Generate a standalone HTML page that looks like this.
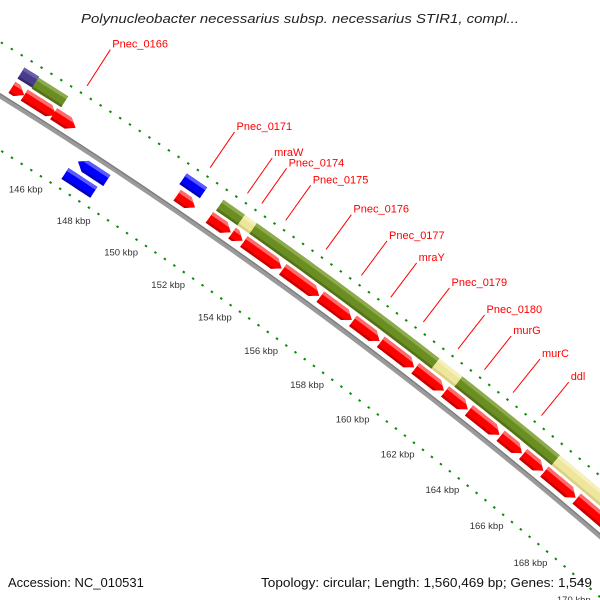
<!DOCTYPE html>
<html><head><meta charset="utf-8"><style>
html,body{margin:0;padding:0;background:#fff;}
svg{display:block;font-family:"Liberation Sans",sans-serif;}
</style></head><body>
<svg id="map" width="600" height="600" viewBox="0 0 600 600" xmlns="http://www.w3.org/2000/svg">
<rect x="0" y="0" width="600" height="600" fill="#fff"/>
<g id="ticks"></g>
<g id="backbone"></g>
<g id="features"></g>
<g id="labels"></g>
<text x="300" y="23" text-anchor="middle" font-size="13" font-style="italic" fill="#222" textLength="438" lengthAdjust="spacingAndGlyphs">Polynucleobacter necessarius subsp. necessarius STIR1, compl...</text>
<text x="8" y="587" font-size="13" fill="#111">Accession: NC_010531</text>
<text x="592" y="587" text-anchor="end" font-size="13" fill="#111" textLength="331" lengthAdjust="spacingAndGlyphs">Topology: circular; Length: 1,560,469 bp; Genes: 1,549</text>
</svg>
<script>
// ---- data (kbp) ----
const featStart = [143.7,144.2,145.4,150.5,151.85,152.8,153.3,154.95,156.55,157.95,159.15,160.65,161.95,163.0,164.4,165.4,166.35,167.8,
                   143.7,144.3,151.9,152.8,153.3,161.1,162.1,166.4,167.9,150.35,
                   147.0,146.85,143.4];
const featEnd   = [144.2,145.5,146.3,151.25,152.75,153.25,154.9,156.5,157.9,159.1,160.6,161.9,162.95,164.35,165.35,166.3,167.75,169.6,
                   144.3,145.5,152.8,153.3,161.1,162.1,166.4,167.9,170.5,151.2,
                   148.2,148.05,143.9];
const featType  = ['cds','cds','cds','cds','cds','cds','cds','cds','cds','cds','cds','cds','cds','cds','cds','cds','cds','cds',
                   'purple','olive','olive','yellow','olive','yellow','olive','yellow','yellow','blue',
                   'revcds','revblock','revblock'];
const labelNames = ['Pnec_0166','Pnec_0171','mraW','Pnec_0174','Pnec_0175','Pnec_0176','Pnec_0177','mraY','Pnec_0179','Pnec_0180','murG','murC','ddl'];
const labelPos   = [145.85,150.9,152.45,153.05,154.05,155.75,157.25,158.5,159.9,161.4,162.55,163.8,165.05];
const tickLabels = [144,146,148,150,152,154,156,158,160,162,164,166,168,170];

// ---- geometry ----
const P146=[61,134.5], P156=[300,298.5], P166=[528,475.6];
function circle(a,b,c){
  const d=2*(a[0]*(b[1]-c[1])+b[0]*(c[1]-a[1])+c[0]*(a[1]-b[1]));
  const a2=a[0]*a[0]+a[1]*a[1], b2=b[0]*b[0]+b[1]*b[1], c2=c[0]*c[0]+c[1]*c[1];
  const x=(a2*(b[1]-c[1])+b2*(c[1]-a[1])+c2*(a[1]-b[1]))/d;
  const y=(a2*(c[0]-b[0])+b2*(a[0]-c[0])+c2*(b[0]-a[0]))/d;
  return [x,y,Math.hypot(a[0]-x,a[1]-y)];
}
const [CX,CY,R]=circle(P146,P156,P166);
const A146=Math.atan2(P146[1]-CY,P146[0]-CX), A166=Math.atan2(P166[1]-CY,P166[0]-CX);
function ang(k){return A146+(k-146)/20*(A166-A146);}
function pos(k,r){const a=ang(k);return [CX+(R+r)*Math.cos(a),CY+(R+r)*Math.sin(a)];}
const NS='http://www.w3.org/2000/svg';
function mk(tag,attrs,parent){const e=document.createElementNS(NS,tag);for(const k in attrs)e.setAttribute(k,attrs[k]);parent.appendChild(e);return e;}
function arcPts(k1,k2,r){const n=Math.max(2,Math.ceil((k2-k1)*4));const p=[];for(let i=0;i<=n;i++)p.push(pos(k1+(k2-k1)*i/n,r));return p;}
function ptsStr(p){return p.map(q=>q[0].toFixed(2)+','+q[1].toFixed(2)).join(' ');}
function shape(k1,k2,r1,r2,dir){
  const h=0.3, mid=(r1+r2)/2;
  if(dir===1){const kb=Math.max(k1,k2-h);return [...arcPts(k1,kb,r2),pos(k2,mid),...arcPts(k1,kb,r1).reverse()];}
  if(dir===-1){const kb=Math.min(k2,k1+h);return [pos(k1,mid),...arcPts(kb,k2,r2),...arcPts(kb,k2,r1).reverse()];}
  return [...arcPts(k1,k2,r2),...arcPts(k1,k2,r1).reverse()];
}

// ---- tick rings ----
const tg=document.getElementById('ticks');
for(let i=0;i<=75;i++){
  const k=141+i*0.4; const major=Math.abs(k/2-Math.round(k/2))<1e-6;
  [46,-46].forEach(r=>{
    if(major){const a=pos(k,r-3.5),b=pos(k,r+3.5);
      const l=mk('line',{x1:a[0],y1:a[1],x2:b[0],y2:b[1],stroke:'#0a8a0a','stroke-width':2.6},tg);
      
      }
    else{const a=pos(k,r-1),b=pos(k,r+1);
      const l=mk('line',{x1:a[0],y1:a[1],x2:b[0],y2:b[1],stroke:'#0a8a0a','stroke-width':2.4},tg);
      
      }
  });
}
tickLabels.forEach(k=>{
  const p=pos(k,-65);
  const t=mk('text',{x:p[0].toFixed(1),y:(p[1]+3.5).toFixed(1),'text-anchor':'middle','font-size':'9.5',fill:'#333'},tg);
  t.textContent=k+' kbp';
  
  
});

// ---- backbone ----
const bg=document.getElementById('backbone');
const bb=arcPts(140,172,0);
const bp1=mk('polyline',{points:ptsStr(bb),fill:'none',stroke:'#9a9a9a','stroke-width':5},bg);


const bp2=mk('polyline',{points:ptsStr(arcPts(140,172,1.8)),fill:'none',stroke:'#7a7a7a','stroke-width':1.2},bg);



// ---- features ----
const style={cds:{r1:7,r2:20,dir:1,fill:'#ff0000',hi:'#ff6a6a',lo:'#c80000'},
  revcds:{r1:-20,r2:-7,dir:-1,fill:'#0000ff',hi:'#5a5aff',lo:'#0000b8'},
  revblock:{r1:-37,r2:-24,dir:0,fill:'#0000ff',hi:'#5a5aff',lo:'#0000b8'},
  blue:{r1:24,r2:37,dir:0,fill:'#0000ff',hi:'#5a5aff',lo:'#0000b8'},
  purple:{r1:24,r2:37,dir:0,fill:'#483d8b',hi:'#6a60a8',lo:'#352c6c'},
  olive:{r1:23,r2:36,dir:0,fill:'#6b8e23',hi:'#8eab4c',lo:'#557219'},
  yellow:{r1:23,r2:36,dir:0,fill:'#eee69a',hi:'#f6f0be',lo:'#d8d084'}};
const fg=document.getElementById('features');
const defs=mk('defs',{},fg);
for(let i=0;i<featStart.length;i++){
  const s=style[featType[i]];
  const pts=shape(featStart[i],featEnd[i],s.r1,s.r2,s.dir);
  const cp=mk('clipPath',{id:'c'+i},defs);
  mk('polygon',{points:ptsStr(pts)},cp);
  const g=mk('g',{},fg);
  
  
  mk('polygon',{points:ptsStr(pts),fill:s.fill},g);
  const hb=[...arcPts(featStart[i]-0.5,featEnd[i]+0.5,s.r2+1),...arcPts(featStart[i]-0.5,featEnd[i]+0.5,s.r2-3.5).reverse()];
  mk('polygon',{points:ptsStr(hb),fill:s.hi,'clip-path':'url(#c'+i+')'},g);
  const lb=[...arcPts(featStart[i]-0.5,featEnd[i]+0.5,s.r1+2.5),...arcPts(featStart[i]-0.5,featEnd[i]+0.5,s.r1-1).reverse()];
  mk('polygon',{points:ptsStr(lb),fill:s.lo,'clip-path':'url(#c'+i+')'},g);
}

// ---- labels ----
const lg=document.getElementById('labels');
labelNames.forEach((n,i)=>{
  const a=pos(labelPos[i],55), b=pos(labelPos[i],98);
  const l=mk('line',{x1:a[0],y1:a[1],x2:b[0],y2:b[1],stroke:'#ff0000','stroke-width':1},lg);
  
  
  const t=mk('text',{x:(b[0]+2).toFixed(1),y:(b[1]-2).toFixed(1),'font-size':'11',fill:'#ff0000'},lg);
  t.textContent=n;
  
  
});
</script>
</body></html>
